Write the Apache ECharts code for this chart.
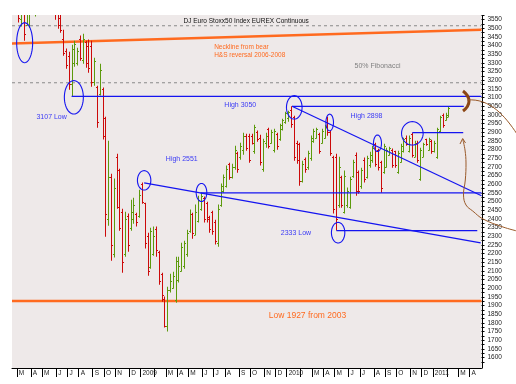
<!DOCTYPE html>
<html><head><meta charset="utf-8">
<script src="https://cdn.jsdelivr.net/npm/echarts@6/dist/echarts.min.js"></script>
<style>html,body{margin:0;padding:0;background:#fff}#c{width:516px;height:384px}</style>
</head><body><div id="c"></div>
<script>
// Weekly OHLC, DJ Euro Stoxx50 (EUREX continuous), week 0 = 18 Feb 2008
const open  = [3690,3700,3640,3555,3600,3520,3600,3700,3660,3760,3820,3840,3790,3860,3760,3720,3600,3560,3440,3370,3340,3180,3300,3300,3440,3320,3420,3400,3400,3190,3160,3120,3150,2980,2400,2640,2200,2760,2680,2440,2200,2420,2350,2400,2430,2420,2600,2490,2300,2120,2200,2340,2210,2080,1940,1780,1990,2000,1930,2050,2100,2130,2200,2330,2430,2310,2390,2460,2520,2490,2410,2440,2380,2260,2480,2560,2590,2715,2640,2700,2780,2760,2800,2880,2880,2880,2790,2900,2870,2690,2840,2920,2840,2800,2890,2860,2920,2960,2980,3030,2990,2840,2830,2620,2745,2700,2750,2850,2870,2890,2840,2870,2960,2900,2760,2760,2480,2640,2440,2480,2470,2650,2770,2670,2590,2740,2640,2710,2740,2830,2800,2730,2670,2700,2770,2800,2790,2670,2730,2790,2870,2790,2890,2760,2840,2630,2760,2860,2800,2850,2790,2760,2910,3000,2970,2990];
const high  = [3760,3740,3660,3640,3620,3640,3720,3740,3780,3850,3880,3870,3880,3880,3800,3740,3640,3600,3492,3383,3365,3406,3429,3388,3458,3469,3429,3435,3429,3331,3169,3296,3158,2990,2852,2661,2633,2777,2690,2459,2442,2431,2511,2523,2436,2569,2610,2494,2321,2350,2356,2356,2217,2090,1952,2009,2084,2096,2182,2182,2263,2275,2338,2454,2436,2483,2534,2552,2529,2500,2419,2448,2396,2483,2604,2656,2708,2725,2719,2823,2788,2840,2898,2892,2892,2892,2944,2910,2886,2863,2898,2927,2915,2921,2898,2950,2979,3019,3025,3051,2996,2852,2840,2736,2754,2794,2881,2921,2927,2898,2921,2944,2990,2910,2765,2777,2759,2650,2679,2581,2644,2742,2783,2679,2696,2754,2765,2788,2823,2840,2805,2736,2834,2811,2817,2806,2794,2794,2834,2869,2881,2881,2898,2852,2852,2811,2840,2863,2869,2857,2852,2927,2996,3008,3013,3048];
const low   = [3630,3600,3534,3510,3429,3515,3504,3620,3568,3720,3780,3760,3770,3740,3680,3550,3498,3475,3342,3267,3146,3107,3279,3285,3313,3296,3273,3244,3163,3169,2927,3112,2858,2298,2361,2159,2177,2459,2332,2090,2182,2211,2332,2373,2356,2407,2488,2229,2073,2113,2188,2182,2020,1923,1773,1750,1975,1998,1917,2033,2096,2113,2182,2321,2286,2304,2379,2448,2379,2379,2321,2309,2252,2240,2471,2552,2581,2627,2633,2684,2667,2742,2771,2794,2725,2830,2777,2846,2708,2673,2811,2806,2834,2783,2800,2852,2910,2950,2961,2927,2736,2719,2592,2610,2667,2684,2736,2840,2863,2777,2834,2863,2880,2765,2431,2333,2465,2465,2431,2465,2459,2638,2534,2546,2575,2610,2633,2696,2725,2702,2679,2552,2661,2696,2765,2696,2696,2661,2725,2783,2823,2783,2754,2754,2725,2621,2754,2823,2794,2777,2783,2748,2898,2927,2967,2985];
const close = [3700,3620,3560,3600,3469,3620,3700,3660,3760,3820,3840,3790,3860,3760,3720,3590,3520,3490,3360,3290,3180,3380,3410,3370,3330,3440,3300,3270,3190,3310,2960,3260,2880,2430,2640,2250,2580,2470,2350,2150,2400,2250,2440,2480,2380,2540,2500,2260,2100,2330,2300,2220,2040,1960,1780,1990,2040,2070,2160,2130,2240,2260,2320,2430,2320,2440,2510,2530,2400,2400,2340,2330,2270,2460,2590,2640,2690,2640,2700,2800,2690,2820,2880,2810,2740,2840,2930,2860,2730,2850,2880,2820,2900,2910,2820,2940,2970,3010,3015,2950,2760,2740,2620,2720,2690,2780,2870,2910,2920,2790,2910,2930,2900,2780,2460,2400,2700,2480,2650,2560,2630,2730,2560,2560,2680,2630,2750,2770,2810,2720,2700,2580,2820,2800,2810,2710,2710,2780,2820,2860,2830,2870,2770,2840,2740,2800,2830,2830,2860,2790,2840,2920,2990,2940,3000,3040];

// x-axis: month boundaries (in week index units) and their labels
const monthTickIdx = [1.5,6.5,10.5,15.5,19.5,23.5,28.5,32.5,36.5,41.5,45.5,50.5,54.5,58.5,62.5,67.5,71.5,75.5,80.5,84.5,89.5,93.5,97.5,102.5,106.5,110.5,114.5,119.5,123.5,128.5,132.5,136.5,141.5,145.5,149.5,154.5,158.5,162.5];
const monthLabels  = ['M','A','M','J','J','A','S','O','N','D','2009','','M','A','M','J','J','A','S','O','N','D','2010','','M','A','M','J','J','A','S','O','N','D','2011','','M','A'];
// y-axis tick labels and tick marks (every 25 points)
const yTickValues = [1600,1650,1700,1750,1800,1850,1900,1950,2000,2050,2100,2150,2200,2250,2300,2350,2400,2450,2500,2550,2600,2650,2700,2750,2800,2850,2900,2950,3000,3050,3100,3150,3200,3250,3300,3350,3400,3450,3500,3550];
const yTickMarks = [1575,1600,1625,1650,1675,1700,1725,1750,1775,1800,1825,1850,1875,1900,1925,1950,1975,2000,2025,2050,2075,2100,2125,2150,2175,2200,2225,2250,2275,2300,2325,2350,2375,2400,2425,2450,2475,2500,2525,2550,2575,2600,2625,2650,2675,2700,2725,2750,2775,2800,2825,2850,2875,2900,2925,2950,2975,3000,3025,3050,3075,3100,3125,3150,3175,3200,3225,3250,3275,3300,3325,3350,3375,3400,3425,3450,3475,3500,3525,3550,3575];
const X_MIN = -0.2, X_MAX = 166.8, Y_MIN = 1540, Y_MAX = 3577;

// annotation levels / lines (week index, value)
const fibLines      = [[[X_MIN,3515],[X_MAX,3515]], [[X_MIN,3186],[X_MAX,3186]]];
const orangeLines   = [[[X_MIN,3413],[X_MAX,3492]], [[X_MIN,1927],[X_MAX,1927]]];
const blueLines = [
  [[21,3107],[X_MAX,3107]],
  [[99.4,3050],[160.5,3050]],
  [[142.2,2898],[160.3,2898]],
  [[66.8,2551],[X_MAX,2551]],
  [[115.2,2333],[165.3,2333]],
  [[99.4,3050],[X_MAX,2534]],
  [[46.8,2608],[166.5,2262]]
];
const circleCenters = [[4.3,3417],[21.8,3102],[46.8,2623],[67.2,2553],[100.2,3044],[112.8,2957],[115.8,2321],[129.8,2837],[142.2,2894]];
const noteText = ['DJ Euro Stoxx50 Index EUREX Continuous','Neckline from bear','H&S reversal 2006-2008','50% Fibonacci','3107 Low','High 2551','High 3050','High 2898','2333 Low','Low 1927 from 2003'];
const notePos  = [[83.1,3540],[71.7,3390],[71.7,3345],[129.8,3280],[13.9,2990],[60.2,2746],[81.0,3058],[125.9,2994],[100.8,2317],[104.9,1842]];

// styles (kept separate from data)
const GREEN = '#5c9a0c', RED = '#cc0a0a', BLUE = '#1414f0', ORANGE = '#ff6a1f', BROWN = '#9a5a2a';
const lineStyles = [
  {stroke: '#8a8a8a', lineWidth: 1, lineDash: [3, 3]},
  {stroke: ORANGE, lineWidth: 2.5},
  {stroke: BLUE, lineWidth: 1.2}
];
const circleRadii = [[8,20],[9.5,16.7],[6.7,9.7],[5.3,9],[7.8,11.7],[3.8,8.3],[6.7,10.3],[4,8.2],[10.8,11.7]];
const noteStyle = [
  {c:'#111', s:6.5, a:'center'},
  {c:ORANGE, s:6.5, a:'left'},
  {c:ORANGE, s:6.5, a:'left'},
  {c:'#808080', s:7, a:'center'},
  {c:'#3a3af5', s:7, a:'center'},
  {c:'#3a3af5', s:7, a:'center'},
  {c:'#3a3af5', s:7, a:'center'},
  {c:'#3a3af5', s:7, a:'center'},
  {c:'#3a3af5', s:7, a:'center'},
  {c:ORANGE, s:8.5, a:'center'}
];
const FONT = '"Liberation Sans", Arial, sans-serif';

const ohlc = open.map((o, i) => [i, o, high[i], low[i], close[i]]);
// segments: [x1, v1, x2, v2, styleIndex]
const segments = [];
fibLines.forEach(s => segments.push([s[0][0], s[0][1], s[1][0], s[1][1], 0]));
orangeLines.forEach(s => segments.push([s[0][0], s[0][1], s[1][0], s[1][1], 1]));
blueLines.forEach(s => segments.push([s[0][0], s[0][1], s[1][0], s[1][1], 2]));

function renderBar(params, api) {
  const i = api.value(0);
  const o = api.value(1), c = api.value(4);
  const pH = api.coord([i, api.value(2)]);
  const pL = api.coord([i, api.value(3)]);
  const pO = api.coord([i, o]);
  const pC = api.coord([i, c]);
  const x = Math.round(pH[0]);
  const col = c >= o ? GREEN : RED;
  return {type: 'group', children: [
    {type: 'rect', shape: {x: x, y: pH[1], width: 1, height: Math.max(1, pL[1] - pH[1])}, style: {fill: col}},
    {type: 'rect', shape: {x: x - 1, y: Math.round(pO[1]), width: 1, height: 1}, style: {fill: col}},
    {type: 'rect', shape: {x: x + 1, y: Math.round(pC[1]), width: 1, height: 1}, style: {fill: col}}
  ]};
}

function renderSegment(params, api) {
  const a = api.coord([api.value(0), api.value(1)]);
  const b = api.coord([api.value(2), api.value(3)]);
  const st = lineStyles[api.value(4)];
  return {type: 'line', shape: {x1: a[0], y1: a[1], x2: b[0], y2: b[1]},
    style: Object.assign({fill: null}, st)};
}

function renderEllipse(params, api) {
  const p = api.coord([api.value(0), api.value(1)]);
  const r = circleRadii[params.dataIndex];
  const pts = [];
  for (let k = 0; k < 48; k++) {
    const t = k / 48 * Math.PI * 2;
    pts.push([p[0] + r[0] * Math.cos(t), p[1] + r[1] * Math.sin(t)]);
  }
  return {type: 'polygon', shape: {points: pts}, style: {fill: 'none', stroke: BLUE, lineWidth: 1.1}};
}

function renderNote(params, api) {
  const p = api.coord([api.value(0), api.value(1)]);
  const st = noteStyle[params.dataIndex];
  return {type: 'text', x: p[0], y: p[1], style: {
    text: noteText[params.dataIndex], fill: st.c, font: st.s + 'px ' + FONT,
    textAlign: st.a, align: st.a, textVerticalAlign: 'middle', verticalAlign: 'middle'}};
}

// right-hand price axis line, drawn along the right edge of the plot
function renderAxisLine(params, api) {
  const a = api.coord([X_MAX, Y_MAX]);
  const b = api.coord([X_MAX, Y_MIN]);
  const x = Math.round(a[0]) + 0.5;
  return {type: 'line', shape: {x1: x, y1: a[1], x2: x, y2: b[1] + 0.5}, style: {stroke: '#000', lineWidth: 1}};
}

const series = [
  {type: 'custom', data: segments.filter(s => s[4] !== 2), renderItem: renderSegment, clip: true, silent: true, z: 2,
    encode: {x: [0, 2], y: [1, 3]}},
  {type: 'custom', data: ohlc, renderItem: renderBar, clip: true, z: 4, encode: {x: 0, y: [2, 3]}},
  {type: 'custom', data: segments.filter(s => s[4] === 2), renderItem: renderSegment, clip: true, silent: true, z: 5,
    encode: {x: [0, 2], y: [1, 3]}},
  {type: 'custom', data: circleCenters, renderItem: renderEllipse, z: 6},
  {type: 'custom', data: notePos, renderItem: renderNote, z: 7},
  {type: 'custom', data: [[X_MAX, Y_MIN]], renderItem: renderAxisLine, clip: false, silent: true, z: 8}
];

const chart = echarts.init(document.getElementById('c'), null, {renderer: 'canvas'});
chart.setOption({
  animation: false,
  grid: {left: 12, top: 15, width: 469.5, height: 353, show: true, backgroundColor: '#eee9e9', borderWidth: 0},
  xAxis: {
    type: 'value', min: X_MIN, max: X_MAX,
    axisLine: {show: true, onZero: false, lineStyle: {color: '#000', width: 1}},
    splitLine: {show: false},
    axisTick: {show: true, length: 9, customValues: monthTickIdx, lineStyle: {color: '#000', width: 1}},
    axisLabel: {show: true, customValues: monthTickIdx, margin: 1.5, align: 'left', padding: [0, 0, 0, 2],
      fontSize: 6.5, fontFamily: FONT, color: '#222',
      formatter: v => { const k = monthTickIdx.indexOf(v); return k >= 0 ? monthLabels[k] : ''; }}
  },
  yAxis: {
    type: 'value', position: 'right', min: Y_MIN, max: Y_MAX,
    axisLine: {show: false, onZero: false},
    splitLine: {show: false},
    axisTick: {show: true, length: 3, customValues: yTickMarks, lineStyle: {color: '#000'}},
    axisLabel: {show: true, customValues: yTickValues, margin: 6, fontSize: 6.5, fontFamily: FONT, color: '#222',
      formatter: v => String(v)}
  },
  series: series,
  graphic: [
    {type: 'bezierCurve', shape: {x1: 463, y1: 91, cpx1: 471, cpy1: 97, cpx2: 471, cpy2: 105, x2: 463, y2: 111},
      style: {stroke: '#8b4513', lineWidth: 3, fill: 'none'}, z: 10},
    {type: 'bezierCurve', shape: {x1: 467, y1: 100, cpx1: 490, cpy1: 98, cpx2: 505, cpy2: 116, x2: 517, y2: 134},
      style: {stroke: BROWN, lineWidth: 1, fill: 'none'}, z: 10},
    {type: 'polyline', shape: {points: [[462.7,139],[465,150],[466,163],[465.3,180],[463.5,195],[466,205],[472.7,211],[483,219],[503,227],[517,231]], smooth: 0.4},
      style: {stroke: BROWN, lineWidth: 1, fill: 'none'}, z: 10},
    {type: 'polyline', shape: {points: [[460,144],[462.7,138.5],[465.5,143]]},
      style: {stroke: BROWN, lineWidth: 1, fill: 'none'}, z: 10}
  ]
});
</script>
</body></html>
